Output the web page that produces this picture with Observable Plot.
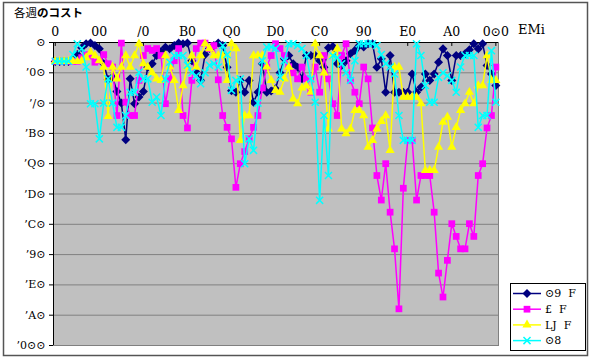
<!DOCTYPE html>
<html><head><meta charset="utf-8">
<script src="https://cdn.jsdelivr.net/npm/d3@7"></script>
<script src="https://cdn.jsdelivr.net/npm/@observablehq/plot@0.6"></script>
<style>body{margin:0;background:#fff}</style>
</head><body><div id="chart"></div>
<script>
const titleRegular = "各週";
const titleBold = "のコスト";
const xAxisTitle = "EMi";
const weeks = d3.range(0, 101);
const xTicks = [0, 10, 20, 30, 40, 50, 60, 70, 80, 90, 100];
const xTickLabels = ["0", "00", "/0", "B0", "Q0", "D0", "C0", "90", "E0", "A0", "0⊙0"];
const yTicks = [0, -100, -200, -300, -400, -500, -600, -700, -800, -900, -1000];
const yTickLabels = ["⊙", "’0⊙", "’/⊙", "’B⊙", "’Q⊙", "’D⊙", "’C⊙", "’9⊙", "’E⊙", "’A⊙", "’0⊙⊙"];
const seriesNames = ["⊙9  F", "£  F", "LJ  F", "⊙8"];

const navy = [
  -63,-63,-63,-63,-55,-40,-17,-4,-2,-10,
  -21,-70,-122,-114,-162,-200,-321,-120,-202,-180,
  -162,-82,-70,-43,-30,-16,-21,-10,-2,-4,
  -2,-60,-98,-125,-40,-20,-10,-2,-10,-82,
  -159,-164,-125,-164,-125,-197,-164,-70,-164,-160,
  -153,-100,-54,-43,-70,-82,-120,-43,-43,-43,
  -60,-82,-17,-13,-70,-76,-60,-37,-26,-10,
  -15,-4,-4,-82,-54,-164,-43,-164,-164,-164,
  -164,-104,-164,-148,-104,-125,-104,-65,-21,-43,
  -125,-43,-43,-37,-24,-4,-21,-4,-76,-104,
  -142];
const magenta = [
  -62,-62,-62,-62,-62,-62,-50,-40,-45,-65,
  -60,-40,-70,-81,-241,-2,-197,-241,-241,-125,
  -43,-20,-26,-20,-43,-202,-120,-60,-20,-241,
  -282,-125,-20,-2,-2,-20,-10,-123,-241,-280,
  -318,-478,-400,-360,-318,-280,-241,-150,-81,-43,
  -4,-20,-43,-80,-100,-120,-81,-120,-164,-81,
  -164,-43,-120,-202,-241,-43,-4,-125,-164,-202,
  -81,-120,-282,-439,-520,-400,-560,-681,-879,-481,
  -323,-323,-520,-439,-439,-439,-560,-761,-840,-719,
  -598,-640,-681,-681,-598,-640,-439,-400,-282,-241,
  -81];
const yellow = [
  -62,-62,-62,-62,-62,-62,-60,-50,-32,-43,
  -60,-81,-244,-81,-120,-81,-43,-81,-43,-4,
  -70,-81,-100,-120,-125,-43,-80,-125,-224,-142,
  -80,-43,-81,-43,-4,-20,-43,-43,-43,-125,
  -4,-20,-323,-241,-241,-43,-43,-43,-80,-125,
  -158,-164,-120,-81,-186,-202,-150,-142,-164,-4,
  -43,-100,-285,-43,-20,-285,-301,-285,-224,-224,
  -241,-345,-323,-285,-260,-241,-356,-81,-81,-180,
  -180,-180,-180,-202,-422,-422,-422,-345,-263,-246,
  -345,-280,-224,-202,-164,-202,-142,-142,-43,-125,
  -125];
const cyan = [
  -62,-62,-62,-62,-40,-4,-20,-81,-202,-202,
  -318,-200,-120,-200,-280,-280,-241,-164,-164,-98,
  -120,-120,-197,-180,-241,-120,-65,-43,-43,-43,
  -75,-100,-110,-136,-100,-75,-70,-81,-10,-40,
  -158,-125,-120,-400,-318,-356,-200,-60,-15,-15,
  -20,-115,-60,-4,-4,-10,-20,-43,-120,-197,
  -521,-241,-439,-43,-50,-70,-100,-125,-60,-4,
  -4,-4,-4,-10,-40,-70,-81,-104,-241,-323,
  -323,-323,-4,-43,-142,-197,-197,-115,-100,-110,
  -125,-164,-81,-43,-43,-43,-280,-241,-241,-27,
  -197];

const diamond = { draw(ctx, size) { const r = Math.sqrt(size / 2); ctx.moveTo(0, -r); ctx.lineTo(r, 0); ctx.lineTo(0, r); ctx.lineTo(-r, 0); ctx.closePath(); } };
const styles = [
  {color: "#000080", symbol: diamond, r: 3.6, d3sym: diamond},
  {color: "#FF00FF", symbol: "square", r: 3.8, d3sym: d3.symbolSquare},
  {color: "#FFFF00", symbol: "triangle", r: 3.4, d3sym: d3.symbolTriangle},
  {color: "#00FFFF", symbol: "times", r: 3.3, d3sym: d3.symbolTimes, stroked: true}
];
const valuesList = [navy, magenta, yellow, cyan];
const tables = valuesList.map((vals, k) => weeks.map((w, i) => ({week: w, cost: vals[i], series: seriesNames[k]})));

const xDomain = [-0.4, 100.6];
const marks = [
  Plot.frame({fill: "#C0C0C0", stroke: "#808080"}),
  Plot.ruleY(yTicks.filter(d => d !== 0), {stroke: "#808080"}),
  Plot.ruleY([0], {stroke: "#000"}),
  Plot.ruleX([xDomain[0]], {stroke: "#000"}),
  Plot.ruleX(xTicks, {y1: 0, y2: -13, stroke: "#000"})
];
tables.forEach((t, k) => {
  const s = styles[k];
  marks.push(Plot.line(t, {x: "week", y: "cost", stroke: s.color, strokeWidth: 1.5}));
  marks.push(Plot.dot(t, {x: "week", y: "cost", symbol: s.symbol, r: s.r,
    ...(s.stroked ? {stroke: s.color, fill: "none", strokeWidth: 1.5} : {fill: s.color, stroke: "none"})}));
});
marks.push(Plot.axisX(xTicks, {anchor: "top", tickSize: 0, tickPadding: 7, label: null,
  tickFormat: d => xTickLabels[xTicks.indexOf(d)], fontSize: 12.5, fill: "#000"}));
marks.push(Plot.axisY(yTicks, {anchor: "left", tickSize: 4, tickPadding: 4, label: null,
  tickFormat: d => yTickLabels[yTicks.indexOf(d)], fontSize: 11, fill: "#000"}));

const chart = Plot.plot({
  width: 592, height: 362,
  marginLeft: 53, marginRight: 94, marginTop: 42, marginBottom: 17,
  x: {domain: xDomain, label: null},
  y: {domain: [-1000, 0], label: null},
  style: {fontFamily: "DejaVu Serif", background: "#fff", color: "#000"},
  marks
});
document.getElementById("chart").appendChild(chart);

const svg = d3.select(chart);
svg.append("rect").attr("x", 3.5).attr("y", 2.5).attr("width", 584).attr("height", 353)
  .attr("fill", "none").attr("stroke", "#555").attr("stroke-width", 1.5);
const title = svg.append("text").attr("x", 14).attr("y", 17).attr("text-anchor", "start")
  .attr("font-family", "'Noto Sans CJK JP'").attr("font-size", 11.5).attr("fill", "#000");
title.append("tspan").text(titleRegular);
title.append("tspan").attr("font-weight", "bold").text(titleBold);
svg.append("text").attr("x", 518).attr("y", 34).attr("text-anchor", "start").attr("font-family", "DejaVu Serif")
  .attr("font-size", 13).attr("fill", "#000").text(xAxisTitle);

const lg = svg.append("g");
lg.append("rect").attr("x", 510.5).attr("y", 283.5).attr("width", 75).attr("height", 67)
  .attr("fill", "#fff").attr("stroke", "#000");
seriesNames.forEach((name, k) => {
  const s = styles[k];
  const y = 293.5 + k * 15.7;
  lg.append("line").attr("x1", 513).attr("x2", 541).attr("y1", y).attr("y2", y)
    .attr("stroke", s.color).attr("stroke-width", 1.5);
  const p = lg.append("path").attr("transform", `translate(527,${y})`)
    .attr("d", d3.symbol(s.d3sym, s.r * s.r * Math.PI)());
  if (s.stroked) p.attr("fill", "none").attr("stroke", s.color).attr("stroke-width", 1.5);
  else p.attr("fill", s.color);
  lg.append("text").attr("x", 545).attr("y", y).attr("dy", "0.35em").attr("text-anchor", "start")
    .attr("font-family", "DejaVu Serif").attr("font-size", 11).attr("fill", "#000")
    .style("white-space", "pre").text(name);
});
</script></body></html>
